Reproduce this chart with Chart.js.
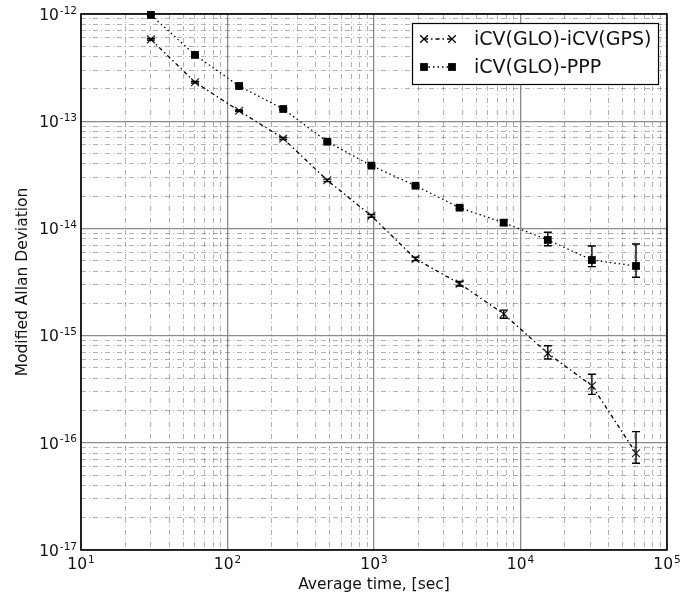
<!DOCTYPE html>
<html>
<head>
<meta charset="utf-8">
<script src="https://cdn.jsdelivr.net/npm/chart.js@4.4.1/dist/chart.umd.min.js"></script>
<style>
  html, body { margin: 0; padding: 0; background: #fff; }
  #wrap { width: 681px; height: 597px; }
</style>
</head>
<body>
<div id="wrap"><canvas id="adevChart" width="681" height="597"></canvas></div>
<script>
// averaging times [s]
const tau = [30, 60, 120, 240, 480, 960, 1920, 3840, 7680, 15360, 30720, 61440];

// iCV(GLO)-iCV(GPS)
const gpsDev  = [5.8e-13, 2.31e-13, 1.25e-13, 6.9e-14, 2.81e-14, 1.31e-14, 5.2e-15, 3.05e-15, 1.59e-15, 6.83e-16, 3.41e-16, 8.0e-17];
const gpsLow  = [5.7e-13, 2.27e-13, 1.23e-13, 6.75e-14, 2.74e-14, 1.27e-14, 5.0e-15, 2.9e-15, 1.45e-15, 6.05e-16, 2.83e-16, 6.44e-17];
const gpsHigh = [5.9e-13, 2.35e-13, 1.27e-13, 7.05e-14, 2.88e-14, 1.35e-14, 5.4e-15, 3.2e-15, 1.73e-15, 8.05e-16, 4.36e-16, 1.27e-16];

// iCV(GLO)-PPP
const pppDev  = [9.8e-13, 4.15e-13, 2.13e-13, 1.30e-13, 6.44e-14, 3.85e-14, 2.5e-14, 1.56e-14, 1.13e-14, 7.8e-15, 5.07e-15, 4.46e-15];
const pppLow  = [9.7e-13, 4.1e-13, 2.1e-13, 1.28e-13, 6.3e-14, 3.78e-14, 2.44e-14, 1.51e-14, 1.07e-14, 6.9e-15, 4.4e-15, 3.5e-15];
const pppHigh = [9.9e-13, 4.2e-13, 2.16e-13, 1.32e-13, 6.6e-14, 3.92e-14, 2.56e-14, 1.61e-14, 1.19e-14, 9.2e-15, 6.85e-15, 7.15e-15];

const seriesNames = ['iCV(GLO)-iCV(GPS)', 'iCV(GLO)-PPP'];

// decade ticks and their labels (10^n)
const xDecades = [1e1, 1e2, 1e3, 1e4, 1e5];
const xTickExps = ['1', '2', '3', '4', '5'];
const yDecades = [1e-17, 1e-16, 1e-15, 1e-14, 1e-13, 1e-12];
const yTickExps = ['-17', '-16', '-15', '-14', '-13', '-12'];
const minorSteps = [2, 3, 4, 5, 6, 7, 8, 9];

const xTitle = 'Average time, [sec]';
const yTitle = 'Modified Allan Deviation';

const FONT = '"DejaVu Sans", sans-serif';
const gpsDash = [4, 3, 1.5, 3];
const pppDash = [1.5, 3];

function logTicks(decades) {
    const out = [];
    decades.forEach((d, i) => {
        out.push({ value: d });
        if (i < decades.length - 1) {
            minorSteps.forEach(m => out.push({ value: d * m }));
        }
    });
    return out;
}

function isDecade(v) {
    const l = Math.log10(v);
    return Math.abs(l - Math.round(l)) < 1e-6;
}

function gridOpts() {
    return {
        drawTicks: false,
        color: ctx => (ctx.tick && isDecade(ctx.tick.value)) ? '#8a8a8a' : 'rgba(90,90,90,0.6)',
        lineWidth: ctx => (ctx.tick && isDecade(ctx.tick.value)) ? 1.3 : 0.8
    };
}

function borderOpts() {
    return {
        display: false,
        dash: ctx => (ctx.tick && isDecade(ctx.tick.value)) ? [] : [5, 3, 1, 3]
    };
}

function drawPower(ctx, exp, x, y, align) {
    // "10" with superscript exponent; y is baseline of "10"
    ctx.font = '15.5px ' + FONT;
    const wBase = ctx.measureText('10').width;
    ctx.font = '10.5px ' + FONT;
    const wExp = ctx.measureText(exp).width;
    const total = wBase + 1 + wExp;
    let left = x;
    if (align === 'center') left = x - total / 2;
    if (align === 'right') left = x - total;
    ctx.textAlign = 'left';
    ctx.textBaseline = 'alphabetic';
    ctx.font = '15.5px ' + FONT;
    ctx.fillText('10', left, y);
    ctx.font = '10.5px ' + FONT;
    ctx.fillText(exp, left + wBase + 1, y - 6.2);
}

function drawErrorBars(ctx, xs, ys, lo, hi, xScale, yScale) {
    ctx.save();
    ctx.strokeStyle = '#000';
    ctx.lineWidth = 1.4;
    ctx.setLineDash([]);
    xs.forEach((t, i) => {
        const px = xScale.getPixelForValue(t);
        const pTop = yScale.getPixelForValue(hi[i]);
        const pBot = yScale.getPixelForValue(lo[i]);
        ctx.beginPath();
        ctx.moveTo(px, pTop);
        ctx.lineTo(px, pBot);
        ctx.moveTo(px - 4, pTop);
        ctx.lineTo(px + 4, pTop);
        ctx.moveTo(px - 4, pBot);
        ctx.lineTo(px + 4, pBot);
        ctx.stroke();
    });
    ctx.restore();
}

const decorPlugin = {
    id: 'decor',
    afterDatasetsDraw(chart) {
        const ctx = chart.ctx;
        const xs = chart.scales.x, ys = chart.scales.y;
        drawErrorBars(ctx, tau, gpsDev, gpsLow, gpsHigh, xs, ys);
        drawErrorBars(ctx, tau, pppDev, pppLow, pppHigh, xs, ys);
    },
    afterDraw(chart) {
        const ctx = chart.ctx;
        const a = chart.chartArea;
        const xs = chart.scales.x, ys = chart.scales.y;
        ctx.save();

        // frame
        ctx.strokeStyle = '#000';
        ctx.lineWidth = 1.6;
        ctx.setLineDash([]);
        ctx.strokeRect(a.left, a.top, a.right - a.left, a.bottom - a.top);

        // tick labels
        ctx.fillStyle = '#111';
        xDecades.forEach((v, i) => {
            drawPower(ctx, xTickExps[i], xs.getPixelForValue(v), a.bottom + 19, 'center');
        });
        yDecades.forEach((v, i) => {
            drawPower(ctx, yTickExps[i], a.left - 4, ys.getPixelForValue(v) + 5.8, 'right');
        });

        // axis titles
        ctx.font = '15.5px ' + FONT;
        ctx.textAlign = 'center';
        ctx.textBaseline = 'alphabetic';
        ctx.fillText(xTitle, (a.left + a.right) / 2, 589);
        ctx.save();
        ctx.translate(27, (a.top + a.bottom) / 2);
        ctx.rotate(-Math.PI / 2);
        ctx.fillText(yTitle, 0, 0);
        ctx.restore();

        // legend
        const bx = 412.5, by = 23.5, bw = 246, bh = 61;
        ctx.fillStyle = '#fff';
        ctx.fillRect(bx, by, bw, bh);
        ctx.strokeStyle = '#000';
        ctx.lineWidth = 1.2;
        ctx.strokeRect(bx, by, bw, bh);

        const rows = [
            { y: 39, dash: gpsDash, marker: 'x' },
            { y: 67, dash: pppDash, marker: 'sq' }
        ];
        rows.forEach((r, i) => {
            ctx.strokeStyle = '#000';
            ctx.lineWidth = 1.3;
            ctx.setLineDash(r.dash);
            ctx.beginPath();
            ctx.moveTo(424, r.y);
            ctx.lineTo(452, r.y);
            ctx.stroke();
            ctx.setLineDash([]);
            [424, 452].forEach(mx => {
                if (r.marker === 'x') {
                    ctx.beginPath();
                    ctx.moveTo(mx - 3.8, r.y - 3.8);
                    ctx.lineTo(mx + 3.8, r.y + 3.8);
                    ctx.moveTo(mx - 3.8, r.y + 3.8);
                    ctx.lineTo(mx + 3.8, r.y - 3.8);
                    ctx.stroke();
                } else {
                    ctx.fillStyle = '#000';
                    ctx.fillRect(mx - 3.9, r.y - 3.9, 7.8, 7.8);
                }
            });
            ctx.fillStyle = '#111';
            ctx.font = '19px ' + FONT;
            ctx.textAlign = 'left';
            ctx.textBaseline = 'middle';
            ctx.fillText(seriesNames[i], 474, r.y + 1);
        });

        ctx.restore();
    }
};

new Chart(document.getElementById('adevChart'), {
    type: 'scatter',
    data: {
        datasets: [{
            label: seriesNames[0],
            data: tau.map((t, i) => ({ x: t, y: gpsDev[i] })),
            showLine: true,
            borderColor: '#000',
            borderWidth: 1.3,
            borderDash: gpsDash,
            pointStyle: 'crossRot',
            pointRadius: 5.5,
            pointBorderColor: '#222',
            pointBorderWidth: 1.2,
            pointBackgroundColor: '#222',
            clip: false
        }, {
            label: seriesNames[1],
            data: tau.map((t, i) => ({ x: t, y: pppDev[i] })),
            showLine: true,
            borderColor: '#000',
            borderWidth: 1.3,
            borderDash: pppDash,
            pointStyle: 'rect',
            pointRadius: 5.5,
            pointBorderColor: '#000',
            pointBorderWidth: 0,
            pointBackgroundColor: '#000',
            clip: false
        }]
    },
    options: {
        responsive: false,
        animation: false,
        devicePixelRatio: 1,
        events: [],
        layout: { padding: { left: 81, right: 14, top: 14, bottom: 47 } },
        plugins: {
            legend: { display: false },
            tooltip: { enabled: false }
        },
        scales: {
            x: {
                type: 'logarithmic',
                min: 1e1,
                max: 1e5,
                ticks: { display: false },
                afterBuildTicks: scale => { scale.ticks = logTicks(xDecades); },
                grid: gridOpts(),
                border: borderOpts()
            },
            y: {
                type: 'logarithmic',
                min: 1e-17,
                max: 1e-12,
                ticks: { display: false },
                afterBuildTicks: scale => { scale.ticks = logTicks(yDecades); },
                grid: gridOpts(),
                border: borderOpts()
            }
        }
    },
    plugins: [decorPlugin]
});
</script>
</body>
</html>
